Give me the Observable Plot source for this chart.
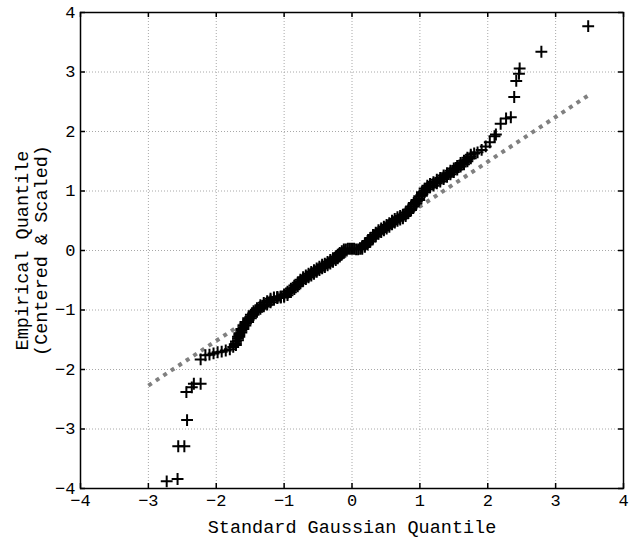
<!DOCTYPE html>
<html>
<head>
<meta charset="utf-8">
<script src="https://cdn.jsdelivr.net/npm/d3@7"></script>
<script src="https://cdn.jsdelivr.net/npm/@observablehq/plot@0.6"></script>
<style>
  html, body { margin: 0; padding: 0; background: #fff; }
  #chart { width: 639px; height: 538px; }
</style>
</head>
<body>
<div id="chart"></div>
<script>
// Axis ticks and labels
const xTicks = [-4, -3, -2, -1, 0, 1, 2, 3, 4];
const xTickLabels = ["\u22124", "\u22123", "\u22122", "\u22121", "0", "1", "2", "3", "4"];
const yTicks = [-4, -3, -2, -1, 0, 1, 2, 3, 4];
const yTickLabels = ["\u22124", "\u22123", "\u22122", "\u22121", "0", "1", "2", "3", "4"];
const xLabel = "Standard Gaussian Quantile";
const yLabel = "Empirical Quantile\n(Centered & Scaled)";

// Sample quantiles (theoretical x, empirical y)
const qqX = [
  -2.73, -2.57, -2.56, -2.47, -2.43, -2.44, -2.36, -2.33, -2.23,
  -2.23, -2.16, -2.10, -2.04, -1.98, -1.92, -1.86, -1.80, -1.75, -1.71,
  -1.68, -1.66, -1.63, -1.60, -1.57, -1.53, -1.49, -1.45, -1.40, -1.35,
  -1.30, -1.25, -1.20, -1.15, -1.10, -1.05, -1.00, -0.95, -0.90, -0.85,
  -0.80, -0.76, -0.72, -0.68, -0.64, -0.60, -0.56, -0.52, -0.48, -0.44,
  -0.40, -0.36, -0.32, -0.28, -0.24, -0.21, -0.18, -0.15, -0.12, -0.09,
  -0.06, -0.03, 0.00, 0.03, 0.06, 0.09, 0.12, 0.15, 0.19, 0.23,
  0.27, 0.31, 0.35, 0.39, 0.43, 0.47, 0.51, 0.55, 0.59, 0.63,
  0.67, 0.71, 0.75, 0.79, 0.83, 0.87, 0.91, 0.95, 0.99, 1.03,
  1.07, 1.11, 1.15, 1.20, 1.25, 1.30, 1.35, 1.40, 1.45, 1.50,
  1.55, 1.60, 1.65, 1.70, 1.75, 1.80, 1.85, 1.91, 1.97, 2.03,
  2.10, 2.12, 2.19, 2.27, 2.34, 2.39, 2.42, 2.46, 2.47, 2.79, 3.48
];
const qqY = [
  -3.88, -3.84, -3.29, -3.29, -2.85, -2.38, -2.30, -2.24, -2.24,
  -1.83, -1.76, -1.75, -1.73, -1.71, -1.70, -1.68, -1.66, -1.62, -1.56,
  -1.48, -1.42, -1.35, -1.29, -1.23, -1.17, -1.11, -1.05, -1.00, -0.95,
  -0.91, -0.88, -0.84, -0.81, -0.79, -0.78, -0.76, -0.72, -0.67, -0.62,
  -0.57, -0.52, -0.48, -0.45, -0.42, -0.39, -0.36, -0.33, -0.30, -0.27,
  -0.25, -0.22, -0.19, -0.16, -0.13, -0.10, -0.07, -0.04, -0.01, 0.02,
  0.03, 0.03, 0.03, 0.03, 0.02, 0.02, 0.03, 0.05, 0.09, 0.13,
  0.18, 0.23, 0.27, 0.31, 0.34, 0.37, 0.40, 0.43, 0.47, 0.50,
  0.53, 0.55, 0.57, 0.61, 0.66, 0.71, 0.77, 0.82, 0.88, 0.95,
  1.01, 1.06, 1.09, 1.12, 1.16, 1.19, 1.23, 1.27, 1.31, 1.35,
  1.39, 1.44, 1.48, 1.53, 1.58, 1.63, 1.65, 1.69, 1.75, 1.82,
  1.92, 1.95, 2.13, 2.22, 2.24, 2.58, 2.85, 2.97, 3.06, 3.34, 3.77
];

// Tied / stepped samples in the dense central band (x, lower y, upper y)
const bandX = [
  -1.71, -1.68, -1.66, -1.63, -1.60, -1.57, -1.53, -1.49, -1.45, -1.40,
  -1.35, -1.30, -1.25, -1.20, -1.15, -1.10, -1.05, -1.00, -0.95, -0.90,
  -0.85, -0.80, -0.76, -0.72, -0.68, -0.64, -0.60, -0.56, -0.52, -0.48,
  -0.44, -0.40, -0.36, -0.32, -0.28, -0.24, -0.21, -0.18, -0.15, -0.12,
  0.15, 0.19, 0.23, 0.27, 0.31, 0.35, 0.39, 0.43, 0.47, 0.51,
  0.55, 0.59, 0.63, 0.67, 0.71, 0.75, 0.79, 0.83, 0.87, 0.91,
  0.95, 0.99, 1.03, 1.07, 1.11, 1.15, 1.20, 1.25, 1.30, 1.35,
  1.40, 1.45, 1.50, 1.55, 1.60, 1.65, 1.70, 1.75
];
const bandYLow = [
  -1.59, -1.51, -1.45, -1.38, -1.32, -1.26, -1.20, -1.14, -1.08, -1.03,
  -0.98, -0.94, -0.91, -0.87, -0.83, -0.80, -0.79, -0.78, -0.75, -0.70,
  -0.65, -0.60, -0.55, -0.51, -0.48, -0.45, -0.42, -0.39, -0.36, -0.33,
  -0.30, -0.28, -0.25, -0.22, -0.19, -0.16, -0.13, -0.10, -0.07, -0.04,
  0.03, 0.06, 0.10, 0.15, 0.20, 0.24, 0.28, 0.31, 0.34, 0.37,
  0.40, 0.44, 0.47, 0.50, 0.52, 0.54, 0.58, 0.63, 0.68, 0.74,
  0.79, 0.85, 0.92, 0.98, 1.03, 1.06, 1.09, 1.13, 1.16, 1.20,
  1.24, 1.28, 1.32, 1.36, 1.41, 1.45, 1.50, 1.55
];
const bandYHigh = [
  -1.53, -1.45, -1.39, -1.32, -1.26, -1.20, -1.14, -1.08, -1.02, -0.97,
  -0.92, -0.88, -0.85, -0.81, -0.79, -0.78, -0.77, -0.74, -0.69, -0.64,
  -0.59, -0.54, -0.49, -0.45, -0.42, -0.39, -0.36, -0.33, -0.30, -0.27,
  -0.24, -0.22, -0.19, -0.16, -0.13, -0.10, -0.07, -0.04, -0.01, 0.02,
  0.07, 0.12, 0.16, 0.21, 0.26, 0.30, 0.34, 0.37, 0.40, 0.43,
  0.46, 0.50, 0.53, 0.56, 0.58, 0.60, 0.64, 0.69, 0.74, 0.80,
  0.85, 0.91, 0.98, 1.04, 1.09, 1.12, 1.15, 1.19, 1.22, 1.26,
  1.30, 1.34, 1.38, 1.42, 1.47, 1.51, 1.56, 1.61
];

// Reference (fitted) line end points
const refX = [-3.0, 3.5];
const refY = [-2.27, 2.62];

const points = [
  ...qqX.map((x, i) => ({x, y: qqY[i]})),
  ...bandX.map((x, i) => ({x, y: bandYLow[i]})),
  ...bandX.map((x, i) => ({x, y: bandYHigh[i]}))
];
const refLine = refX.map((x, i) => ({x, y: refY[i]}));

const W = 639, H = 538;
const mL = 80, mR = 16, mT = 12, mB = 50;
const innerW = W - mL - mR, innerH = H - mT - mB;
const tickLen = 5;
const fontMono = "'Liberation Mono', 'DejaVu Sans Mono', monospace";

const chart = Plot.plot({
  width: W,
  height: H,
  marginLeft: mL,
  marginRight: mR,
  marginTop: mT,
  marginBottom: mB,
  style: {fontFamily: fontMono, fontSize: "17px", background: "white", color: "black"},
  x: {domain: [-4, 4], ticks: xTicks, tickSize: 0, tickPadding: 5, label: null,
      tickFormat: d => xTickLabels[xTicks.indexOf(d)]},
  y: {domain: [-4, 4], ticks: yTicks, tickSize: 0, tickPadding: 5, label: null,
      tickFormat: d => yTickLabels[yTicks.indexOf(d)]},
  marks: [
    Plot.ruleX(xTicks.slice(1, -1), {stroke: "#a8a8a8", strokeWidth: 1, strokeDasharray: "1,2"}),
    Plot.ruleY(yTicks.slice(1, -1), {stroke: "#a8a8a8", strokeWidth: 1, strokeDasharray: "1,2"}),
    Plot.line(refLine, {x: "x", y: "y", stroke: "#808080", strokeWidth: 4,
      strokeDasharray: "4,5", strokeLinecap: "butt"}),
    Plot.dot(points, {x: "x", y: "y", symbol: "plus", r: 3.9, stroke: "black", strokeWidth: 2}),
    Plot.ruleX(xTicks, {stroke: "black", strokeWidth: 1.5, insetTop: innerH - tickLen}),
    Plot.ruleX(xTicks, {stroke: "black", strokeWidth: 1.5, insetBottom: innerH - tickLen}),
    Plot.ruleY(yTicks, {stroke: "black", strokeWidth: 1.5, insetLeft: innerW - tickLen}),
    Plot.ruleY(yTicks, {stroke: "black", strokeWidth: 1.5, insetRight: innerW - tickLen}),
    Plot.frame({stroke: "black", strokeWidth: 1.5}),
    Plot.text([xLabel], {text: d => d, frameAnchor: "bottom", lineAnchor: "top", dy: 31,
      textAnchor: "middle", fontSize: 18.5, fontFamily: fontMono, fill: "black"}),
    Plot.text([yLabel], {text: d => d, frameAnchor: "left", lineAnchor: "middle", rotate: -90,
      textAnchor: "middle", dx: -49, lineHeight: 1, fontSize: 18.5, fontFamily: fontMono, fill: "black"})
  ]
});
document.getElementById("chart").appendChild(chart);
</script>
</body>
</html>
